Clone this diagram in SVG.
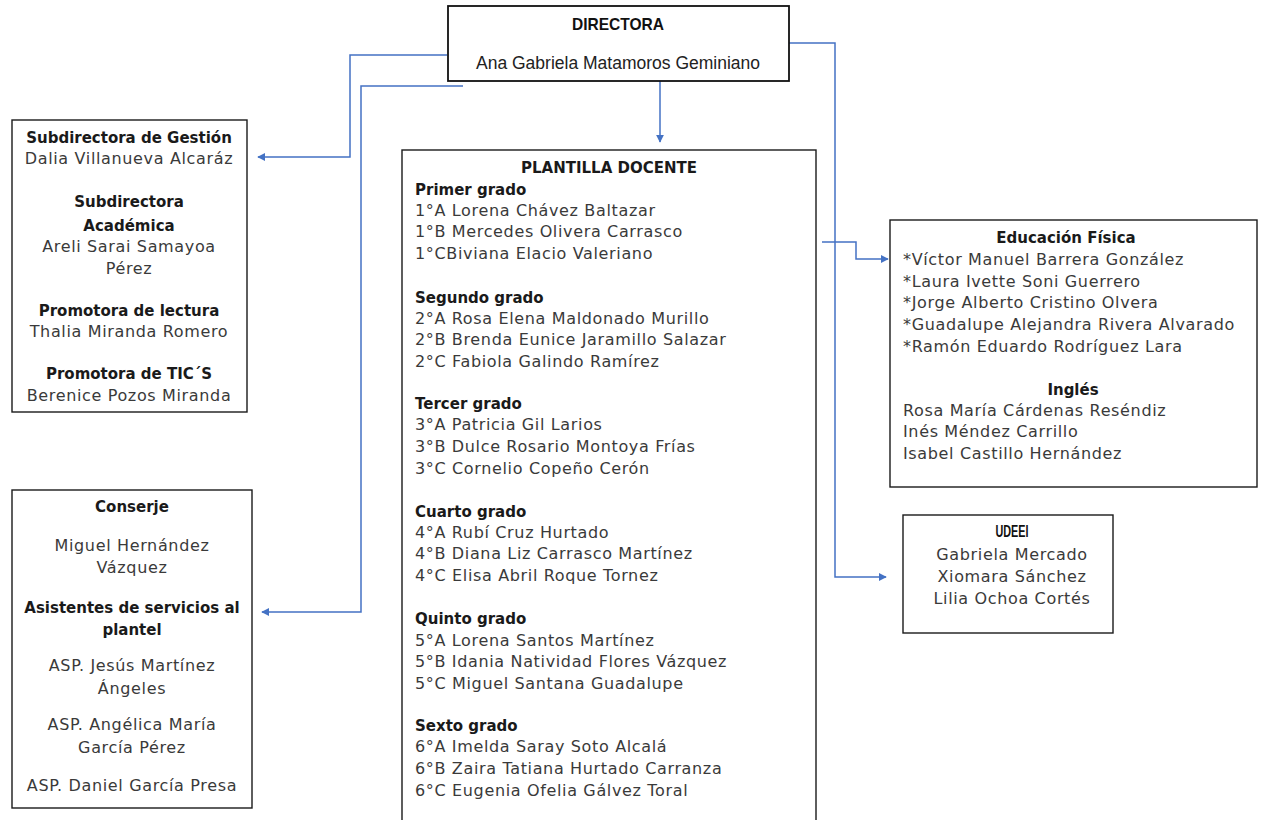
<svg xmlns="http://www.w3.org/2000/svg" width="1261" height="820" viewBox="0 0 1261 820">
<style>
.box{fill:#fff;stroke:#1a1a1a;stroke-width:1.4}
.dbox{fill:#fff;stroke:#111;stroke-width:1.8}
.cal{font-family:"Liberation Sans",Arial,sans-serif;fill:#222}
.calb{font-family:"Liberation Sans",Arial,sans-serif;font-weight:bold;fill:#111}
.t{font-family:"DejaVu Sans",sans-serif;font-size:16px;letter-spacing:0.65px;fill:#3a3a3a}
.b{font-family:"DejaVu Sans",sans-serif;font-size:15px;font-weight:bold;fill:#1a1a1a}
.c{text-anchor:middle}
.conn{fill:none;stroke:#4472C4;stroke-width:1.5}
</style>
<defs>
<marker id="ah" viewBox="0 0 10 10" refX="9" refY="5" markerWidth="8" markerHeight="8" markerUnits="userSpaceOnUse" orient="auto">
<path d="M0,0 L10,5 L0,10 z" fill="#4472C4"/>
</marker>
</defs>

<g id="connectors">
<polyline class="conn" points="447,55 350,55 350,157 258,157" marker-end="url(#ah)"/>
<polyline class="conn" points="463,86 361,86 361,612 262,612" marker-end="url(#ah)"/>
<polyline class="conn" points="660,81 660,142" marker-end="url(#ah)"/>
<polyline class="conn" points="785,43 835,43 835,577 886,577" marker-end="url(#ah)"/>
<polyline class="conn" points="822,242 856,242 856,259 888,259" marker-end="url(#ah)"/>
</g>

<g id="directora">
<rect class="dbox" x="448" y="6" width="341" height="75"/>
<text class="calb c" x="618" y="30" font-size="17" textLength="92" lengthAdjust="spacingAndGlyphs">DIRECTORA</text>
<text class="cal c" x="618" y="69" font-size="17.5">Ana Gabriela Matamoros Geminiano</text>
</g>

<g id="subdirectoras">
<rect class="box" x="12" y="120" width="235" height="292"/>
<text class="b c" x="129" y="143">Subdirectora de Gestión</text>
<text class="t c" x="129" y="164">Dalia Villanueva Alcaráz</text>
<text class="b c" x="129" y="207">Subdirectora</text>
<text class="b c" x="129" y="231">Académica</text>
<text class="t c" x="129" y="252">Areli Sarai Samayoa</text>
<text class="t c" x="129" y="274">Pérez</text>
<text class="b c" x="129" y="316">Promotora de lectura</text>
<text class="t c" x="129" y="337">Thalia Miranda Romero</text>
<text class="b c" x="129" y="379">Promotora de TIC´S</text>
<text class="t c" x="129" y="401">Berenice Pozos Miranda</text>
</g>

<g id="conserje">
<rect class="box" x="12" y="490" width="240" height="318"/>
<text class="b c" x="132" y="512">Conserje</text>
<text class="t c" x="132" y="551">Miguel Hernández</text>
<text class="t c" x="132" y="573">Vázquez</text>
<text class="b c" x="132" y="613">Asistentes de servicios al</text>
<text class="b c" x="132" y="635">plantel</text>
<text class="t c" x="132" y="671">ASP. Jesús Martínez</text>
<text class="t c" x="132" y="694">Ángeles</text>
<text class="t c" x="132" y="730">ASP. Angélica María</text>
<text class="t c" x="132" y="753">García Pérez</text>
<text class="t c" x="132" y="791">ASP. Daniel García Presa</text>
</g>

<g id="plantilla">
<rect class="box" x="402" y="150" width="414" height="680"/>
<text class="b c" x="609" y="173">PLANTILLA DOCENTE</text>
<text class="b" x="415" y="195">Primer grado</text>
<text class="t" x="415" y="216">1°A Lorena Chávez Baltazar</text>
<text class="t" x="415" y="237">1°B Mercedes Olivera Carrasco</text>
<text class="t" x="415" y="259">1°CBiviana Elacio Valeriano</text>
<text class="b" x="415" y="303">Segundo grado</text>
<text class="t" x="415" y="324">2°A Rosa Elena Maldonado Murillo</text>
<text class="t" x="415" y="345">2°B Brenda Eunice Jaramillo Salazar</text>
<text class="t" x="415" y="367">2°C Fabiola Galindo Ramírez</text>
<text class="b" x="415" y="409">Tercer grado</text>
<text class="t" x="415" y="430">3°A Patricia Gil Larios</text>
<text class="t" x="415" y="452">3°B Dulce Rosario Montoya Frías</text>
<text class="t" x="415" y="474">3°C Cornelio Copeño Cerón</text>
<text class="b" x="415" y="517">Cuarto grado</text>
<text class="t" x="415" y="538">4°A Rubí Cruz Hurtado</text>
<text class="t" x="415" y="559">4°B Diana Liz Carrasco Martínez</text>
<text class="t" x="415" y="581">4°C Elisa Abril Roque Tornez</text>
<text class="b" x="415" y="624">Quinto grado</text>
<text class="t" x="415" y="646">5°A Lorena Santos Martínez</text>
<text class="t" x="415" y="667">5°B Idania Natividad Flores Vázquez</text>
<text class="t" x="415" y="689">5°C Miguel Santana Guadalupe</text>
<text class="b" x="415" y="731">Sexto grado</text>
<text class="t" x="415" y="752">6°A Imelda Saray Soto Alcalá</text>
<text class="t" x="415" y="774">6°B Zaira Tatiana Hurtado Carranza</text>
<text class="t" x="415" y="796">6°C Eugenia Ofelia Gálvez Toral</text>
</g>

<g id="educacion-fisica">
<rect class="box" x="890" y="220" width="367" height="267"/>
<text class="b c" x="1066" y="243">Educación Física</text>
<text class="t" x="903" y="265">*Víctor Manuel Barrera González</text>
<text class="t" x="903" y="287">*Laura Ivette Soni Guerrero</text>
<text class="t" x="903" y="308">*Jorge Alberto Cristino Olvera</text>
<text class="t" x="903" y="330">*Guadalupe Alejandra Rivera Alvarado</text>
<text class="t" x="903" y="352">*Ramón Eduardo Rodríguez Lara</text>
<text class="b c" x="1073" y="395">Inglés</text>
<text class="t" x="903" y="416">Rosa María Cárdenas Reséndiz</text>
<text class="t" x="903" y="437">Inés Méndez Carrillo</text>
<text class="t" x="903" y="459">Isabel Castillo Hernández</text>
</g>

<g id="udeei">
<rect class="box" x="903" y="515" width="210" height="118"/>
<text class="calb c" x="1012" y="537" font-size="16" textLength="33" lengthAdjust="spacingAndGlyphs">UDEEI</text>
<text class="t c" x="1012" y="560">Gabriela Mercado</text>
<text class="t c" x="1012" y="582">Xiomara Sánchez</text>
<text class="t c" x="1012" y="604">Lilia Ochoa Cortés</text>
</g>
</svg>
